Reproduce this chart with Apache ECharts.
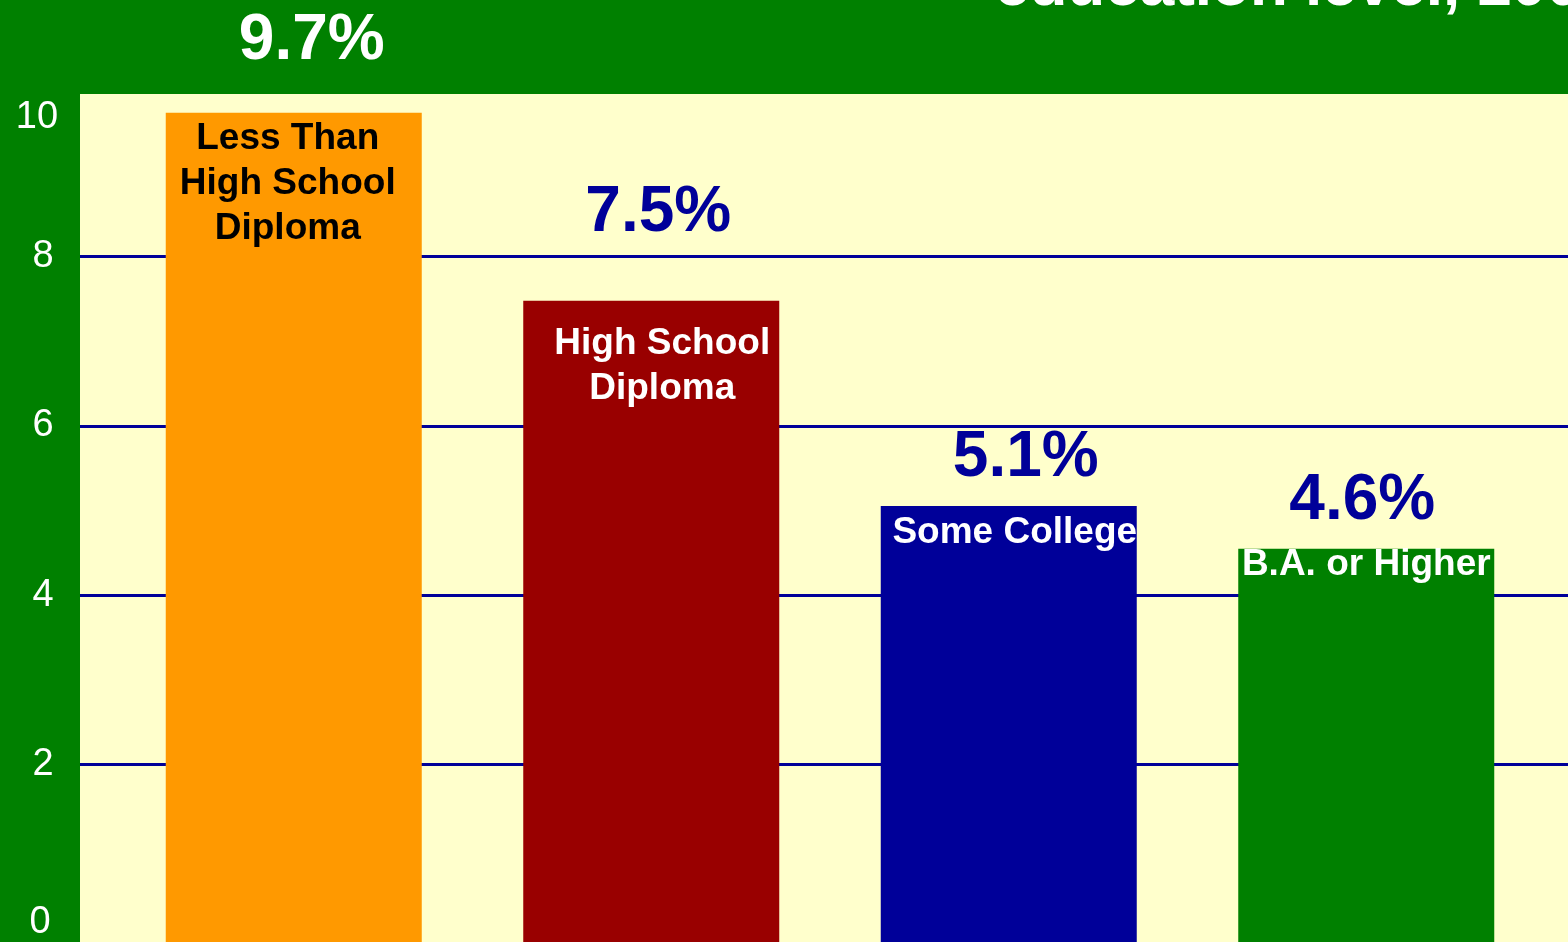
<!DOCTYPE html>
<html>
<head>
<meta charset="utf-8">
<title>Unemployment rate by education level</title>
<script src="https://cdn.jsdelivr.net/npm/echarts@6/dist/echarts.min.js"></script>
<style>
  html, body { margin: 0; padding: 0; background: #008000; overflow: hidden; }
  #chart { width: 1568px; height: 942px; }
</style>
</head>
<body>
<div id="chart"></div>
<script>
// Unemployment rate (%) by highest level of education
const categories = ['Less Than\nHigh School\nDiploma', 'High School\nDiploma', 'Some College', 'B.A. or Higher'];
const rates = [9.7, 7.5, 5.1, 4.6];
const yTicks = [0, 2, 4, 6, 8, 10];
const titleText = 'education level, 2003';

// Per-bar colours
const barColors = ['#FF9900', '#990000', '#000099', '#008000'];
const categoryTextColors = ['#000000', '#ffffff', '#ffffff', '#ffffff'];
const rateTextColors = ['#ffffff', '#000099', '#000099', '#000099'];

// Label nudges in pixels: [dx, dy]
const rateLabelOffsets = [[18, -39], [7, -55], [17, -16], [-4, -15]];
const categoryLabelOffsets = [[-6, 4], [11, 21], [6, 4], [0, -6]];

const FONT = '"Liberation Sans", Arial, Helvetica, sans-serif';
const yMin = yTicks[0];
const yMax = yTicks[yTicks.length - 1];
const yStep = yTicks[1] - yTicks[0];

const chart = echarts.init(document.getElementById('chart'), null, { renderer: 'canvas' });

const rateData = rates.map((v, i) => ({
  value: v,
  itemStyle: { color: barColors[i] },
  label: { color: rateTextColors[i], offset: rateLabelOffsets[i] }
}));

const categoryData = rates.map((v, i) => ({
  value: v,
  label: { color: categoryTextColors[i], offset: categoryLabelOffsets[i] }
}));

const hiddenValueAxis = (gridIndex) => ({
  type: 'value', gridIndex, min: yMin, max: yMax, interval: yStep, show: false, splitLine: { show: false }
});
const hiddenCategoryAxis = (gridIndex) => ({
  type: 'category', gridIndex, data: categories, show: false
});

const option = {
  backgroundColor: '#008000',
  animation: false,
  title: {
    text: titleText,
    left: 990,
    top: -48,
    textStyle: { color: '#ffffff', fontFamily: FONT, fontWeight: 'bold', fontSize: 62, lineHeight: 62 }
  },
  grid: [
    // pale plot panel
    { left: 80, right: 0, top: 94, bottom: 0, show: true, backgroundColor: '#FFFFCC', borderWidth: 0 },
    // value axis and grid lines
    { left: 80, right: 0, top: 87, bottom: 0 },
    // bar placement
    { left: 115, width: 1430, top: 87, bottom: 0 }
  ],
  xAxis: [hiddenCategoryAxis(0), hiddenCategoryAxis(1), hiddenCategoryAxis(2)],
  yAxis: [
    hiddenValueAxis(0),
    {
      type: 'value', gridIndex: 1, min: yMin, max: yMax, interval: yStep,
      axisLine: { show: false },
      axisTick: { show: false },
      axisLabel: {
        color: '#ffffff', fontFamily: FONT, fontSize: 38, align: 'center', margin: 37,
        formatter: v => (v === yMax ? '{top|' + v + '}' : v === yMin ? '{bottom|' + v + '}' : String(v)),
        rich: {
          top: { color: '#ffffff', fontFamily: FONT, fontSize: 38, padding: [62, 12, 0, 0] },
          bottom: { color: '#ffffff', fontFamily: FONT, fontSize: 38, padding: [0, 6, 22, 0] }
        }
      },
      splitLine: { show: true, showMinLine: false, showMaxLine: false, lineStyle: { color: '#000099', width: 3 } }
    },
    hiddenValueAxis(2)
  ],
  series: [
    {
      // keeps the pale panel grid populated
      type: 'bar', xAxisIndex: 0, yAxisIndex: 0, data: [], silent: true
    },
    {
      name: 'Rate',
      type: 'bar',
      xAxisIndex: 2, yAxisIndex: 2,
      barWidth: 256,
      data: rateData,
      z: 3,
      label: {
        show: true, position: 'top', distance: 0,
        formatter: p => p.value.toFixed(1) + '%',
        fontFamily: FONT, fontWeight: 'bold', fontSize: 64, lineHeight: 64
      }
    },
    {
      name: 'Category',
      type: 'bar',
      xAxisIndex: 2, yAxisIndex: 2,
      barWidth: 256,
      barGap: '-100%',
      data: categoryData,
      z: 4,
      itemStyle: { color: 'rgba(0,0,0,0)' },
      label: {
        show: true, position: 'insideTop', distance: 0,
        formatter: p => categories[p.dataIndex],
        fontFamily: FONT, fontWeight: 'bold', fontSize: 37, lineHeight: 45, align: 'center'
      }
    }
  ]
};

chart.setOption(option);
</script>
</body>
</html>
